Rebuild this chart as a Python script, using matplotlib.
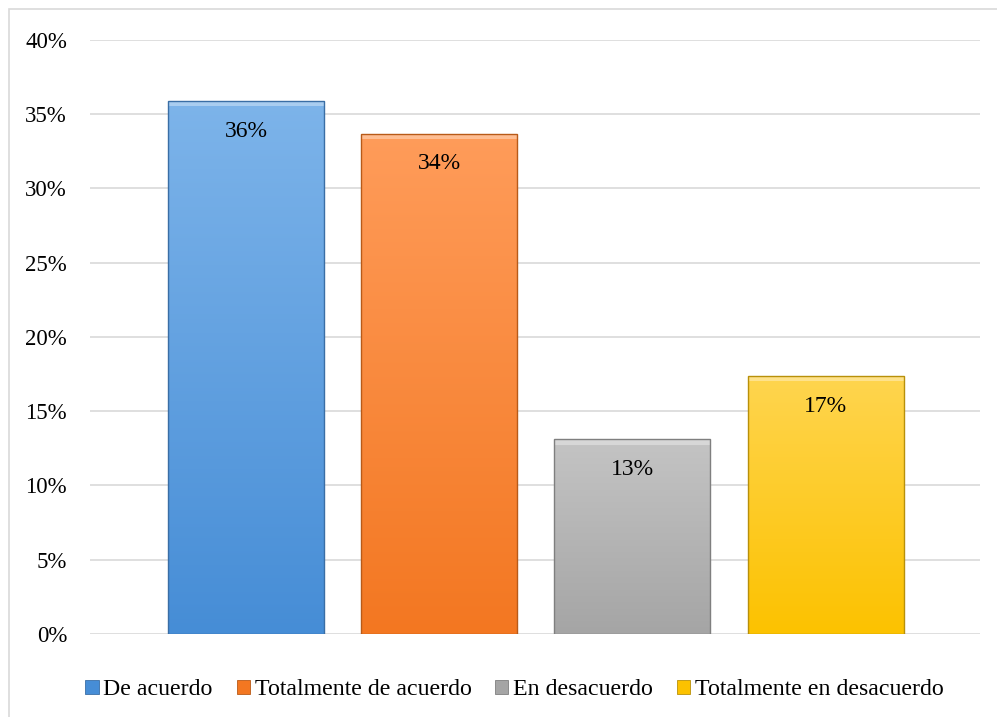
import numpy as np
import matplotlib
matplotlib.use('Agg')
import matplotlib.pyplot as plt
from matplotlib.colors import LinearSegmentedColormap
from matplotlib.patches import Rectangle
from matplotlib.ticker import PercentFormatter

categorias = ['De acuerdo', 'Totalmente de acuerdo', 'En desacuerdo', 'Totalmente en desacuerdo']
valores = [0.359, 0.337, 0.131, 0.174]
etiquetas = ['36%', '34%', '13%', '17%']
col_arriba = ['#7db4ea', '#ff9c5a', '#c4c4c4', '#ffd54f']
col_abajo = ['#468dd6', '#f37721', '#a5a5a5', '#fcc200']
col_borde = ['#3a6ea5', '#b85a18', '#7f7f7f', '#b8900a']

plt.rcParams['font.family'] = ['Liberation Serif', 'DejaVu Serif']

fig = plt.figure(figsize=(9.97, 7.17), dpi=100)
ax = fig.add_axes([0.0903, 0.1158, 0.8927, 0.8284])

# marco exterior del grafico
fig.patches.append(Rectangle((9 / 997, -0.05), 1.1, 1 - 9 / 717 + 0.05,
                             transform=fig.transFigure, fill=False,
                             edgecolor='#d9d9d9', linewidth=1.2))

x = np.arange(len(valores))
ancho = 0.808
barras = ax.bar(x, valores, width=ancho, color=col_abajo, linewidth=0, zorder=3)

for i, b in enumerate(barras):
    cmap = LinearSegmentedColormap.from_list('g%d' % i, [col_abajo[i], col_arriba[i]])
    grad = np.linspace(0, 1, 256).reshape(-1, 1)
    im = ax.imshow(grad, cmap=cmap, origin='lower', aspect='auto',
                   extent=[b.get_x(), b.get_x() + b.get_width(), 0, b.get_height()],
                   zorder=3.5)
    im.set_clip_path(b)
    # brillo del bisel superior
    ax.add_patch(Rectangle((b.get_x(), b.get_height() - 0.0035), b.get_width(), 0.0035,
                           facecolor='white', alpha=0.35, linewidth=0, zorder=3.8))
    ax.add_patch(Rectangle((b.get_x(), 0), b.get_width(), b.get_height(),
                           fill=False, edgecolor=col_borde[i], linewidth=1.0, zorder=4))
    ax.text(b.get_x() + b.get_width() / 2, b.get_height() - 0.0205, etiquetas[i],
            ha='center', va='center', fontsize=17, zorder=5)

# cajas de la leyenda
for i in range(len(categorias)):
    ax.bar(0, 0, color=col_abajo[i], edgecolor=col_borde[i], linewidth=0.6,
           label=categorias[i])

ax.set_xlim(-0.808, 3.80)
ax.set_ylim(0, 0.40)
ax.set_yticks(np.arange(0, 0.401, 0.05))
ax.yaxis.set_major_formatter(PercentFormatter(1.0, decimals=0))
ax.set_xticks([])
ax.tick_params(axis='y', length=0, pad=16.5, labelsize=16.5)
ax.grid(axis='y', color='#d9d9d9', linewidth=1.2, zorder=0)
for s in ax.spines.values():
    s.set_visible(False)

ax.legend(loc='upper center', bbox_to_anchor=(0.477, -0.04), ncol=4, frameon=False,
          fontsize=17.2, handlelength=0.55, handleheight=0.55, handletextpad=0.2,
          columnspacing=1.0)

fig.savefig('out.png', dpi=100)
